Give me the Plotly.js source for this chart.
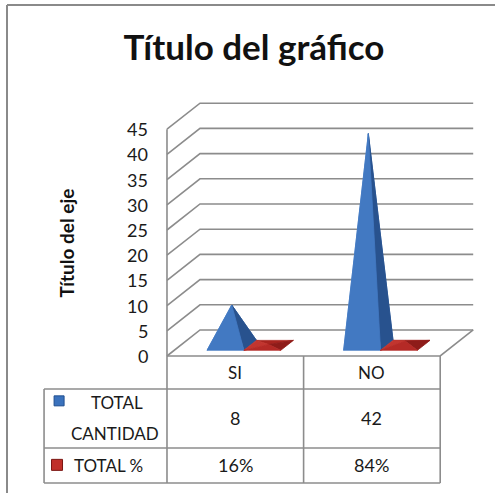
<!DOCTYPE html>
<html>
<head>
<meta charset="utf-8">
<script src="https://cdn.plot.ly/plotly-3.0.1.min.js"></script>
<style>
html,body{margin:0;padding:0;background:#fff;}
#chart{width:495px;height:493px;}
</style>
</head>
<body>
<div id="chart"></div>
<script>
// ---- data ----
const categories = ['SI', 'NO'];
const totalCantidad = [8, 42];
const totalPct = [0.16, 0.84];
const pctLabels = ['16%', '84%'];
const seriesNames = ['TOTAL', 'CANTIDAD'];
const seriesName2 = 'TOTAL %';
const yTicks = [0, 5, 10, 15, 20, 25, 30, 35, 40, 45];
const chartTitle = 'Título del gráfico';
const yTitle = 'Título del eje';

// ---- projection (oblique 3D look) ----
const DX = 0.2416;   // depth offset in category units
const DY = 5.16;     // depth offset in value units
const FONT = 'Lato, "DejaVu Sans", sans-serif';
const GRID = '#8c8c8c';

function P(x, d, h) { return [x + d * DX, h + d * DY]; }

const traces = [];
function poly(pts, color, lineColor) {
  traces.push({
    type: 'scatter', mode: 'lines', fill: 'toself',
    x: pts.map(p => p[0]).concat([pts[0][0]]),
    y: pts.map(p => p[1]).concat([pts[0][1]]),
    fillcolor: color,
    line: {color: lineColor || color, width: 0.8},
    hoverinfo: 'skip', showlegend: false
  });
}
function line(pts, color, width) {
  traces.push({
    type: 'scatter', mode: 'lines',
    x: pts.map(p => p[0]), y: pts.map(p => p[1]),
    line: {color: color, width: width},
    hoverinfo: 'skip', showlegend: false
  });
}

// walls: gridlines on left wall and back wall
const nCat = categories.length;
yTicks.forEach(t => {
  line([P(0, 0, t), P(0, 1, t), P(nCat, 1, t)], GRID, 1.6);
});
// left wall front edge
line([P(0, 0, 0), P(0, 0, yTicks[yTicks.length - 1])], GRID, 1.6);
// floor
line([P(0, 0, 0), P(nCat, 0, 0), P(nCat, 1, 0)], GRID, 1.6);

// pyramids
const W = 0.27, D0 = 0.22, D1 = 0.60;
function pyramid(x0, v, cols) {
  const FL = P(x0, D0, 0), FR = P(x0 + W, D0, 0),
        BR = P(x0 + W, D1, 0), BL = P(x0, D1, 0),
        A = P(x0 + W / 2, (D0 + D1) / 2, v);
  poly([BL, BR, A], cols.back);
  poly([FL, BL, A], cols.left);
  poly([FR, BR, A], cols.right);
  poly([FL, FR, A], cols.front);
}
const blue = {front: '#4279c2', right: '#28528e', left: '#5a90d2', back: '#3466a8'};
const red = {front: '#b52a26', right: '#8e1c19', left: '#c2352f', back: '#a8241f'};
categories.forEach((c, i) => {
  pyramid(i + 0.24, totalCantidad[i], blue);
  pyramid(i + 0.51, totalPct[i], red);
});

// legend keys in table
traces.push({type: 'scatter', mode: 'markers', x: [-0.79], y: [-8.9],
  marker: {symbol: 'square', size: 10, color: '#3a72bd', line: {color: '#1f4f8f', width: 1}},
  hoverinfo: 'skip', showlegend: false});
traces.push({type: 'scatter', mode: 'markers', x: [-0.805], y: [-21.6],
  marker: {symbol: 'square', size: 11, color: '#c0302a', line: {color: '#7a1612', width: 1}},
  hoverinfo: 'skip', showlegend: false});

// ---- table (shapes) ----
const rowY = [0, -6.55, -18.25, -25.2];
const tableLeft = -0.9;
const shapes = [];
function sline(x0, y0, x1, y1) {
  shapes.push({type: 'line', xref: 'x', yref: 'y', x0, y0, x1, y1,
    line: {color: GRID, width: 1.6}});
}
for (let k = 0; k <= nCat; k++) sline(k, rowY[0], k, rowY[3]);
sline(tableLeft, rowY[1], tableLeft, rowY[3]);
sline(tableLeft, rowY[1], nCat, rowY[1]);
sline(tableLeft, rowY[2], nCat, rowY[2]);
sline(tableLeft, rowY[3], nCat, rowY[3]);
// chart frame
shapes.push({type: 'line', xref: 'paper', yref: 'paper', x0: 7 / 495, x1: 7 / 495, y0: 0, y1: 1 - 5 / 493,
  line: {color: '#8a8a8a', width: 2}});
shapes.push({type: 'line', xref: 'paper', yref: 'paper', x0: 7 / 495, x1: 1, y0: 1 - 5 / 493, y1: 1 - 5 / 493,
  line: {color: '#8a8a8a', width: 2}});

// ---- annotations ----
const ann = [];
const tf = {family: FONT, size: 17, color: '#1a1a1a'};
const tickF = {family: FONT, size: 18, color: '#1a1a1a'};
yTicks.forEach(t => ann.push({x: 0, y: t, xref: 'x', yref: 'y', text: String(t),
  showarrow: false, xanchor: 'right', yanchor: 'middle', xshift: -17, font: tickF}));
categories.forEach((c, i) => {
  ann.push({x: i + 0.5, y: (rowY[0] + rowY[1]) / 2, xref: 'x', yref: 'y', text: c,
    showarrow: false, font: tf});
  ann.push({x: i + 0.5, y: (rowY[1] + rowY[2]) / 2, xref: 'x', yref: 'y', text: String(totalCantidad[i]),
    showarrow: false, font: tickF});
  ann.push({x: i + 0.5, y: (rowY[2] + rowY[3]) / 2, xref: 'x', yref: 'y', text: pctLabels[i],
    showarrow: false, font: tickF});
});
ann.push({x: -0.365, y: -9.3, xref: 'x', yref: 'y', text: seriesNames[0], showarrow: false, font: tf});
ann.push({x: -0.38, y: -15.3, xref: 'x', yref: 'y', text: seriesNames[1], showarrow: false, font: tf});
ann.push({x: -0.425, y: (rowY[2] + rowY[3]) / 2, xref: 'x', yref: 'y', text: seriesName2, showarrow: false, font: tf});
ann.push({x: 52 / 495, y: 1 - 243 / 493, xref: 'paper', yref: 'paper', text: '<b>' + yTitle + '</b>',
  textangle: -90, showarrow: false, font: {family: FONT, size: 19, color: '#111'}});

const layout = {
  width: 495, height: 493,
  margin: {l: 0, r: 0, t: 0, b: 0},
  paper_bgcolor: '#fff', plot_bgcolor: '#fff',
  title: {text: '<b>' + chartTitle + '</b>', x: 254 / 495, xanchor: 'center',
    y: 1 - 48 / 493, yanchor: 'middle', font: {family: FONT, size: 35, color: '#111'}},
  xaxis: {range: [-1.2225, 2.4012], visible: false, fixedrange: true},
  yaxis: {range: [-27.183, 70.635], visible: false, fixedrange: true},
  shapes: shapes,
  annotations: ann,
  showlegend: false
};
Plotly.newPlot('chart', traces, layout, {displayModeBar: false, staticPlot: true});
</script>
</body>
</html>
